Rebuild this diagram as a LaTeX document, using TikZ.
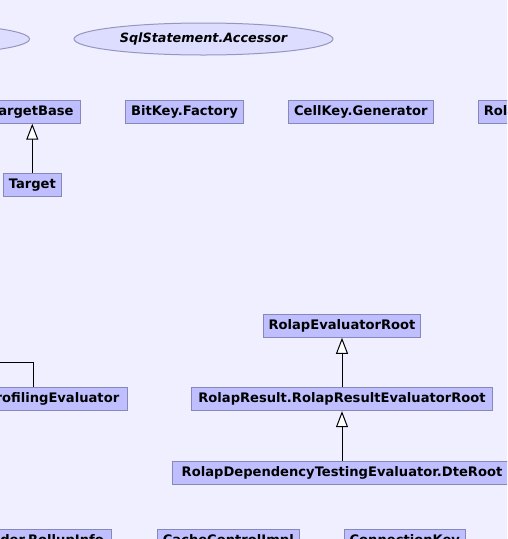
\documentclass[tikz,border=0pt]{standalone}
\usepackage{fontspec}
\setmainfont{DejaVu Sans}
\usetikzlibrary{arrows.meta,shapes.geometric}
\definecolor{bg}{RGB}{239,239,255}
\definecolor{boxfill}{RGB}{191,191,255}
\definecolor{boxline}{RGB}{136,136,184}
\definecolor{ellfill}{RGB}{221,221,255}
\definecolor{ellline}{RGB}{150,150,190}
\tikzset{
  cls/.style={draw=boxline, fill=boxfill, line width=1pt, rectangle,
    minimum height=23pt, inner sep=0pt,
    font=\fontsize{13.1}{15}\selectfont\bfseries},
  iface/.style={draw=ellline, fill=ellfill, line width=1pt, ellipse,
    minimum width=259pt, minimum height=32pt, inner sep=0pt,
    font=\fontsize{12.8}{15}\selectfont\bfseries\itshape},
  inherit/.style={draw=black, line width=1pt,
    -{Triangle[fill=white, length=16pt, width=12pt, line width=1pt]}},
  plain/.style={draw=black, line width=1pt}
}
\begin{document}
\begin{tikzpicture}[x=1pt,y=-1pt]
\useasboundingbox[fill=bg] (0,0) rectangle (507,539);
\clip (0,0) rectangle (507,539);
% interfaces
\node[iface] (leftiface) at (-100,39) {};
\node[iface] (sqlacc) at (203.5,39) {SqlStatement.Accessor};
% top row
\node[cls, minimum width=97pt] (targetbase) at (32.3,111.7) {TargetBase};
\node[cls, minimum width=118.4pt] (bitkey) at (184.5,111.7) {BitKey.Factory};
\node[cls, minimum width=145pt] (cellkey) at (360.8,111.7) {CellKey.Generator};
\node[cls, anchor=west, inner xsep=5pt] (rolstar) at (478.3,111.7) {RolapStar.Bar};
\node[cls, minimum width=58pt] (target) at (32.3,185) {Target};
\draw[inherit] (target) -- (targetbase);
% evaluator roots
\node[cls, minimum width=157pt] (evalroot) at (342,325.8) {RolapEvaluatorRoot};
\node[cls, minimum width=301pt] (resultroot) at (342,399.2) {RolapResult.RolapResultEvaluatorRoot};
\node[cls, minimum width=339pt] (dteroot) at (342,472.8) {RolapDependencyTestingEvaluator.DteRoot};
\draw[inherit] (resultroot) -- (evalroot);
\draw[inherit] (dteroot) -- (resultroot);
% profiling evaluator
\node[cls, anchor=east, inner xsep=8pt] (profeval) at (127.7,399.2) {RolapProfilingEvaluator};
\coordinate (proftop) at (33.3,362.3);
\coordinate (profend) at (-10,362.3);
\draw[plain] (profeval.north -| proftop) |- (profend);
% bottom row
\node[cls, anchor=east, inner xsep=8pt] (rollup) at (112.3,540.8) {SegmentBuilder.RollupInfo};
\node[cls, minimum width=142pt] (cachectl) at (228.3,540.8) {CacheControlImpl};
\node[cls, minimum width=121pt] (connkey) at (404.8,540.8) {ConnectionKey};
\end{tikzpicture}
\end{document}
